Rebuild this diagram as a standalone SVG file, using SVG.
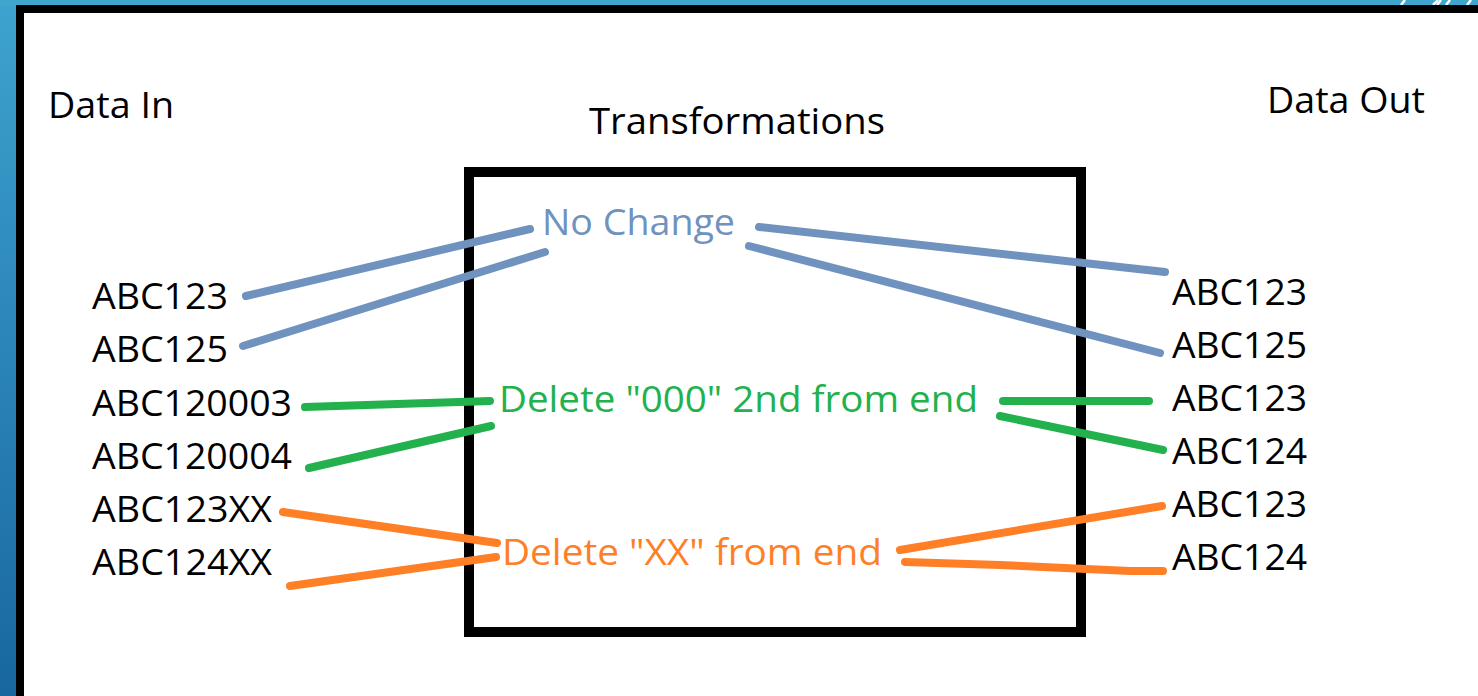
<svg xmlns="http://www.w3.org/2000/svg" width="1478" height="696" viewBox="0 0 1478 696">
<defs>
<linearGradient id="bg" x1="0" y1="0" x2="0" y2="1">
<stop offset="0" stop-color="#3EA3CF"/>
<stop offset="1" stop-color="#18679F"/>
</linearGradient>
<style>
.t{font-family:"Open Sans","Liberation Sans",sans-serif;font-size:36px;fill:#000}
.blue{stroke:#7092BE}
.green{stroke:#22B14C}
.orange{stroke:#FF7F27}
.c line,.c polyline{stroke-width:8;stroke-linecap:round;fill:none}
</style>
</defs>
<rect x="0" y="0" width="1478" height="696" fill="url(#bg)"/>
<rect x="0" y="0" width="1478" height="6" fill="#41A6CE"/>
<g stroke="#fff" stroke-width="2.5">
<line x1="1401" y1="5" x2="1405" y2="0"/>
<line x1="1433" y1="5" x2="1438" y2="0"/>
<line x1="1437" y1="5" x2="1441" y2="0"/>
<line x1="1446" y1="5" x2="1450" y2="0"/>
<line x1="1467" y1="5" x2="1471" y2="0"/>
</g>
<rect x="16" y="5" width="1462" height="691" fill="#000"/>
<rect x="24" y="13" width="1454" height="683" fill="#fff"/>

<g id="titles">
<text class="t" x="48" y="118" textLength="126" lengthAdjust="spacingAndGlyphs">Data In</text>
<text class="t" x="589" y="134" textLength="296" lengthAdjust="spacingAndGlyphs">Transformations</text>
<text class="t" x="1267" y="113" textLength="158" lengthAdjust="spacingAndGlyphs">Data Out</text>
</g>

<g id="transform-box">
<rect x="469" y="172" width="612" height="460" fill="none" stroke="#000" stroke-width="10"/>
</g>

<g id="inputs">
<text class="t" x="92" y="309" textLength="136" lengthAdjust="spacingAndGlyphs">ABC123</text>
<text class="t" x="92" y="362" textLength="136" lengthAdjust="spacingAndGlyphs">ABC125</text>
<text class="t" x="92" y="416" textLength="200" lengthAdjust="spacingAndGlyphs">ABC120003</text>
<text class="t" x="92" y="469" textLength="200" lengthAdjust="spacingAndGlyphs">ABC120004</text>
<text class="t" x="92" y="522" textLength="180" lengthAdjust="spacingAndGlyphs">ABC123XX</text>
<text class="t" x="92" y="575" textLength="180" lengthAdjust="spacingAndGlyphs">ABC124XX</text>
</g>

<g id="outputs">
<text class="t" x="1172" y="305" textLength="135" lengthAdjust="spacingAndGlyphs">ABC123</text>
<text class="t" x="1172" y="358" textLength="135" lengthAdjust="spacingAndGlyphs">ABC125</text>
<text class="t" x="1172" y="411" textLength="135" lengthAdjust="spacingAndGlyphs">ABC123</text>
<text class="t" x="1172" y="464" textLength="135" lengthAdjust="spacingAndGlyphs">ABC124</text>
<text class="t" x="1172" y="517" textLength="135" lengthAdjust="spacingAndGlyphs">ABC123</text>
<text class="t" x="1172" y="570" textLength="135" lengthAdjust="spacingAndGlyphs">ABC124</text>
</g>

<g id="node-nochange">
<text class="t" x="542" y="235" textLength="193" lengthAdjust="spacingAndGlyphs" style="fill:#7092BE">No Change</text>
</g>
<g id="node-delete000">
<text class="t" x="499" y="412" textLength="479" lengthAdjust="spacingAndGlyphs" style="fill:#22B14C">Delete "000" 2nd from end</text>
</g>
<g id="node-deleteXX">
<text class="t" x="502" y="565" textLength="380" lengthAdjust="spacingAndGlyphs" style="fill:#FF7F27">Delete "XX" from end</text>
</g>

<g id="connectors" class="c">
<line class="blue" x1="246" y1="296" x2="530" y2="229"/>
<line class="blue" x1="243" y1="346" x2="545" y2="252"/>
<line class="blue" x1="759" y1="227" x2="1165" y2="272"/>
<line class="blue" x1="749" y1="246" x2="1160" y2="353"/>
<line class="green" x1="305" y1="407" x2="490" y2="401"/>
<line class="green" x1="309" y1="468" x2="491" y2="426"/>
<line class="green" x1="1003" y1="401" x2="1149" y2="401"/>
<line class="green" x1="1000" y1="416" x2="1163" y2="450"/>
<line class="orange" x1="283" y1="512" x2="497" y2="543"/>
<line class="orange" x1="290" y1="586" x2="496" y2="557"/>
<line class="orange" x1="900" y1="550" x2="1162" y2="506"/>
<polyline class="orange" points="905,562 1000,565 1130,571 1163,571"/>
</g>
</svg>
